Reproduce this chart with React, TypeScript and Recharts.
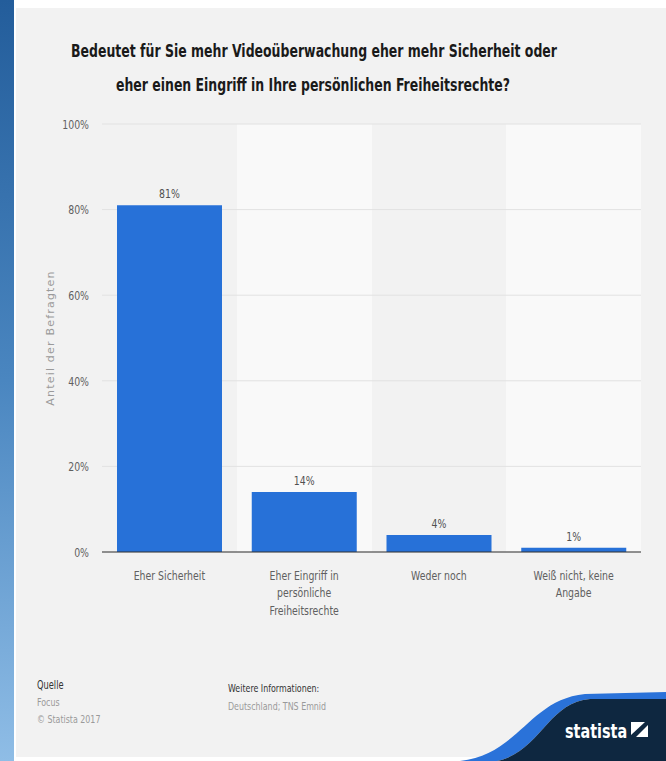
import React from 'react';
import { BarChart, Bar, XAxis, YAxis, CartesianGrid, LabelList } from 'recharts';

const categories = [
  'Eher Sicherheit',
  'Eher Eingriff in persönliche Freiheitsrechte',
  'Weder noch',
  'Weiß nicht, keine Angabe',
];
const categoryLines = [
  ['Eher Sicherheit'],
  ['Eher Eingriff in', 'persönliche', 'Freiheitsrechte'],
  ['Weder noch'],
  ['Weiß nicht, keine', 'Angabe'],
];
const values = [81, 14, 4, 1];
const yTicks = [0, 20, 40, 60, 80, 100];

const titleLines = [
  'Bedeutet für Sie mehr Videoüberwachung eher mehr Sicherheit oder',
  'eher einen Eingriff in Ihre persönlichen Freiheitsrechte?',
];
const yLabel = 'Anteil der Befragten';

const data = categories.map((c, i) => ({ category: c, value: values[i] }));

const FONT = '"DejaVu Sans", sans-serif';
const SX = 0.72;
const TITLE_SX = 0.68;

const NText = (p: any) => {
  const { x, y, anchor = 'start', size = 13, fill = '#666', weight = 'normal', sx = SX, length, children } = p;
  const extra = length ? { textLength: length / sx, lengthAdjust: 'spacingAndGlyphs' } : {};
  return (
    <g transform={`translate(${x},${y}) scale(${sx},1)`}>
      <text x={0} y={0} textAnchor={anchor} fontFamily={FONT} fontSize={size} fontWeight={weight} fill={fill} {...extra}>
        {children}
      </text>
    </g>
  );
};

const XTick = (props: any) => {
  const { x, y, payload } = props;
  const idx = categories.indexOf(payload.value);
  const lines = idx >= 0 ? categoryLines[idx] : [String(payload.value)];
  return (
    <g>
      {lines.map((l, i) => (
        <NText key={i} x={x} y={y + 27.5 + i * 17.5} anchor="middle" size={13} fill="#606060">
          {l}
        </NText>
      ))}
    </g>
  );
};

const YTick = (props: any) => {
  const { x, y, payload } = props;
  return (
    <NText x={x} y={y + 4.7} anchor="end" size={13} fill="#606060">
      {`${payload.value}%`}
    </NText>
  );
};

const ValueLabel = (props: any) => {
  const { x, y, width, value } = props;
  return (
    <NText x={x + width / 2} y={y - 7} anchor="middle" size={13} fill="#505050">
      {`${value}%`}
    </NText>
  );
};

const Decor = () => (
  <svg width={666} height={761} style={{ position: 'absolute', left: 0, top: 0 }}>
    <defs>
      <linearGradient id="strip" x1="0" y1="0" x2="0" y2="1">
        <stop offset="0" stopColor="#235d9b" />
        <stop offset="0.5" stopColor="#4a86c0" />
        <stop offset="1" stopColor="#8fbde6" />
      </linearGradient>
    </defs>
    <rect x={0} y={0} width={666} height={761} fill="#ffffff" />
    <rect x={0} y={0} width={14} height={761} fill="url(#strip)" />
    <rect x={16} y={8} width={650} height={749} fill="#f2f2f2" />
  </svg>
);

const Overlay = () => (
  <svg width={666} height={761} style={{ position: 'absolute', left: 0, top: 0, pointerEvents: 'none' }}>
    <NText x={314} y={57} anchor="middle" size={18.5} weight="bold" fill="#1a1a1a" sx={TITLE_SX} length={486}>
      {titleLines[0]}
    </NText>
    <NText x={313} y={91} anchor="middle" size={18.5} weight="bold" fill="#1a1a1a" sx={TITLE_SX} length={394}>
      {titleLines[1]}
    </NText>
    <NText x={37} y={689} size={11.5} fill="#333">Quelle</NText>
    <NText x={37} y={706} size={11} fill="#9a9a9a">Focus</NText>
    <NText x={37} y={723} size={11} fill="#9a9a9a">© Statista 2017</NText>
    <NText x={228} y={692} size={11} fill="#333">Weitere Informationen:</NText>
    <NText x={228} y={710} size={11} fill="#9a9a9a">Deutschland; TNS Emnid</NText>
    <path d="M 460 761 C 520 754, 528 700, 585 694 L 666 692 L 666 699 L 590 699 C 548 702, 540 752, 497 761 Z" fill="#2a72d9" />
    <path d="M 497 761 C 540 752, 548 702, 590 699 L 666 699 L 666 761 Z" fill="#0e2740" />
    <NText x={565} y={738} size={20} weight="bold" fill="#ffffff">statista</NText>
    <rect x={631} y={722} width={17} height={15} fill="#ffffff" />
    <polygon points="631,737 636,737 648,725 648,722 645,722 631,735" fill="#0e2740" />
  </svg>
);

export default function App() {
  return (
    <div style={{ position: 'absolute', left: 0, top: 0, width: 666, height: 761 }}>
      <Decor />
      <div style={{ position: 'absolute', left: 0, top: 0 }}>
        <BarChart
          width={666}
          height={761}
          data={data}
          margin={{ top: 124, right: 25, bottom: 149, left: 40 }}
          barCategoryGap={15}
        >
          <CartesianGrid
            horizontal={false}
            stroke="none"
            verticalFill={['transparent', '#f9f9f9']}
            verticalCoordinatesGenerator={(args: any) => {
              const o = args.offset;
              return categories.map((_, i) => o.left + (i * o.width) / categories.length);
            }}
          />
          <CartesianGrid vertical={false} stroke="#e2e2e2" />
          <XAxis
            dataKey="category"
            interval={0}
            height={60}
            tickLine={false}
            tickSize={0}
            tickMargin={0}
            axisLine={{ stroke: '#333', strokeWidth: 1.2 }}
            tick={<XTick />}
          />
          <YAxis
            domain={[0, 100]}
            ticks={yTicks}
            width={62}
            axisLine={false}
            tickLine={false}
            tickMargin={7}
            tick={<YTick />}
            label={{
              value: yLabel,
              angle: -90,
              position: 'insideLeft',
              offset: 10,
              style: {
                textAnchor: 'middle',
                fill: '#9a9a9a',
                fontSize: 11,
                letterSpacing: 1.2,
                fontFamily: '"DejaVu Sans", sans-serif',
              },
            }}
          />
          <Bar dataKey="value" fill="#2771d8" isAnimationActive={false}>
            <LabelList dataKey="value" content={<ValueLabel />} />
          </Bar>
        </BarChart>
      </div>
      <Overlay />
    </div>
  );
}
